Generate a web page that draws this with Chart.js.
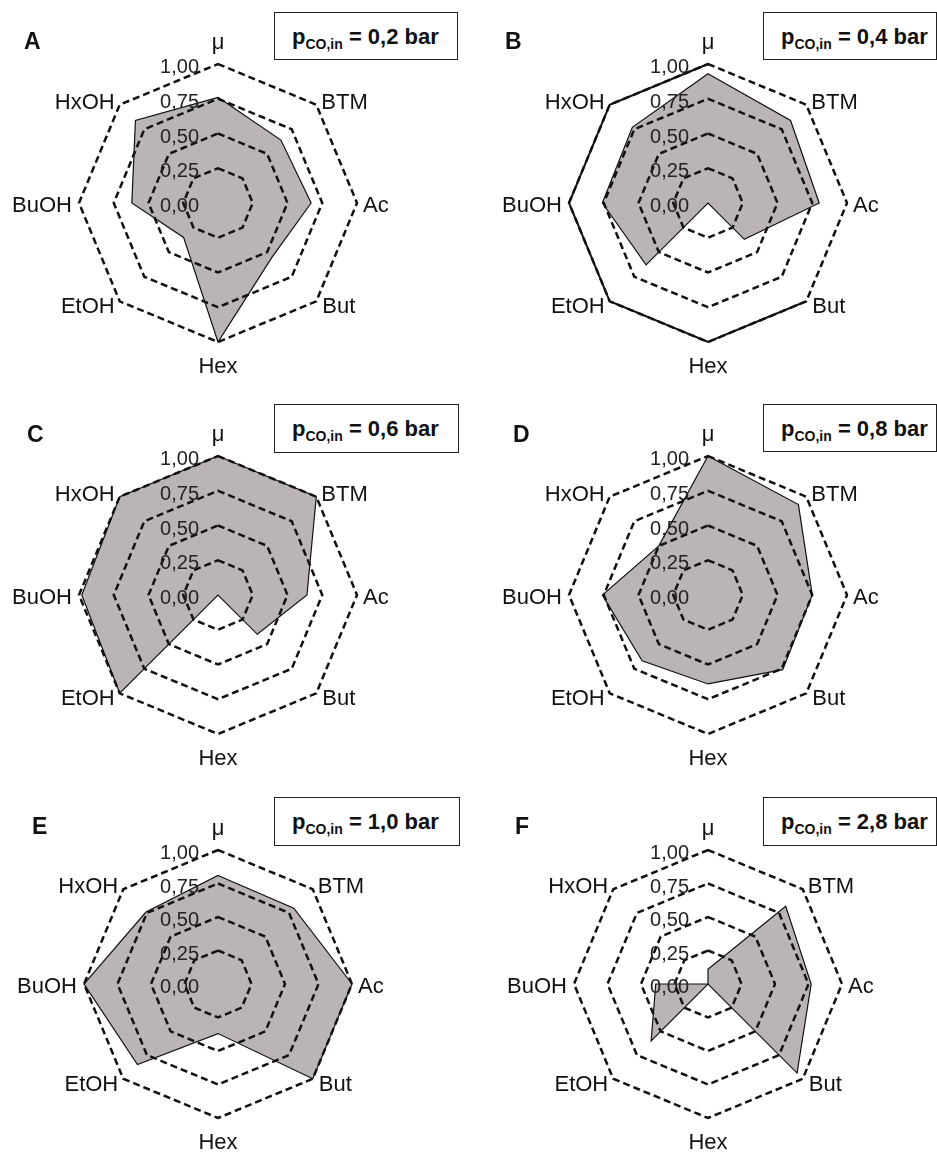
<!DOCTYPE html>
<html>
<head>
<meta charset="utf-8">
<script src="https://cdn.jsdelivr.net/npm/chart.js@4.4.1/dist/chart.umd.min.js"></script>
<style>
  body { margin: 0; background: #fff; }
  #page { position: relative; width: 937px; height: 1153px; overflow: hidden; font-family: "Liberation Sans", Arial, sans-serif; color: #111; }
  canvas { position: absolute; }
  .letter { position: absolute; font-weight: bold; font-size: 23px; line-height: 23px; }
  .box { position: absolute; box-sizing: border-box; border: 1.5px solid #222; background: #fff; }
  .box span { position: absolute; left: 17px; font-weight: bold; font-size: 22px; line-height: 22px; white-space: nowrap; }
  .box sub { font-size: 14px; line-height: 0; vertical-align: -5px; }
</style>
</head>
<body>
<div id="page"></div>
<script>
// axes of every radar, clockwise from the top
const axisLabels = ['μ', 'BTM', 'Ac', 'But', 'Hex', 'EtOH', 'BuOH', 'HxOH'];
const tickValues = [0, 0.25, 0.5, 0.75, 1];
const tickLabels = ['0,00', '0,25', '0,50', '0,75', '1,00'];

const panelLetters = ['A', 'B', 'C', 'D', 'E', 'F'];
const pressures = ['0,2', '0,4', '0,6', '0,8', '1,0', '2,8'];

// normalised values, same order as axisLabels
const valuesA = [0.76, 0.64, 0.67, 0.55, 1.00, 0.35, 0.62, 0.84];
const valuesB = [0.93, 0.84, 0.80, 0.37, 0.00, 0.63, 0.76, 0.77];
const valuesC = [1.00, 1.00, 0.64, 0.40, 0.00, 1.00, 0.98, 1.00];
const valuesD = [1.00, 0.92, 0.75, 0.76, 0.64, 0.67, 0.76, 0.50];
const valuesE = [0.81, 0.80, 1.00, 1.00, 0.37, 0.85, 1.00, 0.76];
const valuesF = [0.11, 0.82, 0.77, 0.94, 0.00, 0.60, 0.39, 0.00];
// solid part of the outer ring in panel B
const outlineB = [1, null, null, 1, 1, 1, 1, 1];

const panelValues = [valuesA, valuesB, valuesC, valuesD, valuesE, valuesF];

// layout of each panel (pixels on the page)
const panels = [
  { x: 0,   y: 0,   w: 468, h: 385, cx: 218, cy: 203, r: 139, lx: 24,  lb: 50,  box: [274, 12, 184, 48] },
  { x: 468, y: 0,   w: 469, h: 385, cx: 708, cy: 203, r: 139, lx: 505, lb: 50,  box: [763, 12, 174, 48] },
  { x: 0,   y: 385, w: 468, h: 385, cx: 218, cy: 595, r: 139, lx: 27,  lb: 443, box: [274, 404, 185, 49] },
  { x: 468, y: 385, w: 469, h: 385, cx: 708, cy: 595, r: 139, lx: 513, lb: 443, box: [763, 404, 174, 48] },
  { x: 0,   y: 770, w: 468, h: 383, cx: 218, cy: 984, r: 134, lx: 32,  lb: 835, box: [274, 797, 186, 49] },
  { x: 468, y: 770, w: 469, h: 383, cx: 708, cy: 984, r: 134, lx: 515, lb: 835, box: [763, 797, 174, 49] }
];

// where each axis name sits relative to its outer vertex
const labelPlace = [
  { align: 'center', dx: 0,  dy: -15 },
  { align: 'left',   dx: 5,  dy: 4 },
  { align: 'left',   dx: 6,  dy: 9 },
  { align: 'left',   dx: 6,  dy: 12 },
  { align: 'center', dx: 0,  dy: 31 },
  { align: 'right',  dx: -5, dy: 12 },
  { align: 'right',  dx: -7, dy: 9 },
  { align: 'right',  dx: -5, dy: 4 }
];

const radarText = {
  id: 'radarText',
  afterDraw(chart) {
    const scale = chart.scales.r;
    const ctx = chart.ctx;
    ctx.save();
    ctx.fillStyle = '#111';
    ctx.textBaseline = 'alphabetic';
    ctx.font = '22px "Liberation Sans", Arial, sans-serif';
    axisLabels.forEach((label, i) => {
      const p = scale.getPointPositionForValue(i, 1);
      const o = labelPlace[i];
      ctx.textAlign = o.align;
      ctx.fillText(label, p.x + o.dx, p.y + o.dy);
    });
    ctx.fillStyle = '#222';
    ctx.font = '20px "Liberation Sans", Arial, sans-serif';
    ctx.textAlign = 'right';
    tickValues.forEach((v, k) => {
      const y = scale.yCenter - scale.getDistanceFromCenterForValue(v);
      ctx.fillText(tickLabels[k], scale.xCenter - 19, y + 9);
    });
    ctx.restore();
  }
};

const page = document.getElementById('page');

panels.forEach((pn, idx) => {
  const canvas = document.createElement('canvas');
  canvas.width = pn.w;
  canvas.height = pn.h;
  canvas.style.left = pn.x + 'px';
  canvas.style.top = pn.y + 'px';
  canvas.style.width = pn.w + 'px';
  canvas.style.height = pn.h + 'px';
  page.appendChild(canvas);

  const datasets = [{
    data: panelValues[idx],
    backgroundColor: '#bab5b4',
    borderColor: '#111',
    borderWidth: 1.2,
    pointRadius: 0,
    fill: true
  }];
  if (idx === 1) {
    datasets.push({
      data: outlineB,
      borderColor: '#111',
      borderWidth: 2,
      pointRadius: 0,
      fill: false,
      spanGaps: false
    });
  }

  new Chart(canvas, {
    type: 'radar',
    data: { labels: axisLabels, datasets: datasets },
    options: {
      responsive: false,
      animation: false,
      devicePixelRatio: 1,
      layout: {
        padding: {
          left: pn.cx - pn.r - pn.x,
          right: pn.x + pn.w - pn.cx - pn.r,
          top: pn.cy - pn.r - pn.y,
          bottom: pn.y + pn.h - pn.cy - pn.r
        }
      },
      plugins: { legend: { display: false }, tooltip: { enabled: false } },
      scales: {
        r: {
          min: 0,
          max: 1,
          ticks: { stepSize: 0.25, display: false },
          pointLabels: { display: false },
          angleLines: { display: false },
          grid: { color: '#111', lineWidth: 2.5, z: 1, borderDash: [7, 4] },
          border: { dash: [7, 4] }
        }
      }
    },
    plugins: [radarText]
  });

  const letter = document.createElement('div');
  letter.className = 'letter';
  letter.textContent = panelLetters[idx];
  letter.style.left = pn.lx + 'px';
  letter.style.top = (pn.lb - 20) + 'px';
  page.appendChild(letter);

  const box = document.createElement('div');
  box.className = 'box';
  box.style.left = pn.box[0] + 'px';
  box.style.top = pn.box[1] + 'px';
  box.style.width = pn.box[2] + 'px';
  box.style.height = pn.box[3] + 'px';
  box.innerHTML = '<span style="top:13px">p<sub>CO,in</sub> = ' + pressures[idx] + ' bar</span>';
  page.appendChild(box);
});
</script>
</body>
</html>
